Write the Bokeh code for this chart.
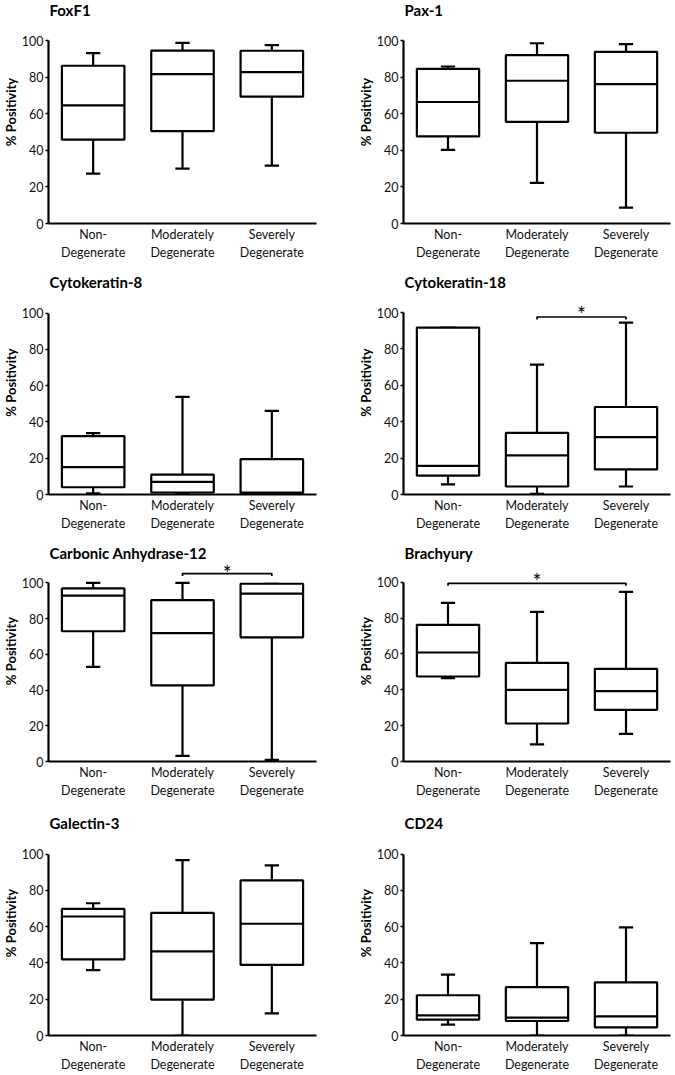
from bokeh.plotting import figure
from bokeh.models import Range1d, FixedTicker, Label, Title
from bokeh.layouts import column, row
from bokeh.embed import file_html
from bokeh.resources import INLINE
from bokeh.core.properties import value

# ---------------- data ----------------
groups = ["Non-\nDegenerate", "Moderately\nDegenerate", "Severely\nDegenerate"]
positions = [1, 2, 3]
y_ticks = [0, 20, 40, 60, 80, 100]
y_label = "% Positivity"

# each panel: whisker low, Q1, median, Q3, whisker high (per group)
foxf1_lo = [27.3, 30.0, 31.6]
foxf1_q1 = [45.8, 50.5, 69.3]
foxf1_med = [64.5, 81.6, 82.7]
foxf1_q3 = [86.2, 94.5, 94.4]
foxf1_hi = [93.1, 98.7, 97.5]

pax1_lo = [40.2, 22.2, 8.7]
pax1_q1 = [47.6, 55.5, 49.6]
pax1_med = [66.4, 78.0, 76.2]
pax1_q3 = [84.5, 92.0, 93.8]
pax1_hi = [85.8, 98.5, 98.0]

ck8_lo = [0.7, 0.3, 0.3]
ck8_q1 = [4.0, 1.1, 0.7]
ck8_med = [15.1, 7.0, 1.1]
ck8_q3 = [32.2, 11.0, 19.5]
ck8_hi = [33.8, 53.9, 46.1]

ck18_lo = [5.6, 0.3, 4.4]
ck18_q1 = [10.4, 4.4, 13.8]
ck18_med = [15.7, 21.5, 31.5]
ck18_q3 = [91.8, 33.9, 48.1]
ck18_hi = [91.8, 71.4, 94.5]

ca12_lo = [53.0, 3.1, 0.9]
ca12_q1 = [72.9, 42.6, 69.5]
ca12_med = [92.9, 71.8, 94.0]
ca12_q3 = [96.9, 90.3, 99.5]
ca12_hi = [100.0, 100.0, 99.5]

brach_lo = [46.5, 9.5, 15.4]
brach_q1 = [47.4, 21.2, 28.8]
brach_med = [60.8, 40.0, 39.2]
brach_q3 = [76.2, 55.0, 51.7]
brach_hi = [88.5, 83.5, 94.6]

gal3_lo = [36.0, 0.0, 12.2]
gal3_q1 = [42.0, 19.8, 38.9]
gal3_med = [65.6, 46.4, 61.6]
gal3_q3 = [69.8, 67.6, 85.5]
gal3_hi = [72.9, 96.7, 93.8]

cd24_lo = [6.0, 0.0, 0.0]
cd24_q1 = [8.7, 8.0, 4.5]
cd24_med = [11.1, 9.8, 10.5]
cd24_q3 = [22.2, 26.7, 29.3]
cd24_hi = [33.6, 50.9, 59.6]

# significance brackets: [group from, group to], bracket height, star centre
ck18_sig_pair = [2, 3]
ck18_sig_y = 97.6
ck18_star_y = 101.5
ca12_sig_pair = [2, 3]
ca12_sig_y = 105.2
ca12_star_y = 107.8
brach_sig_pair = [1, 3]
brach_sig_y = 99.4
brach_star_y = 103.3

panels = [
    ("FoxF1", foxf1_lo, foxf1_q1, foxf1_med, foxf1_q3, foxf1_hi, None),
    ("Pax-1", pax1_lo, pax1_q1, pax1_med, pax1_q3, pax1_hi, None),
    ("Cytokeratin-8", ck8_lo, ck8_q1, ck8_med, ck8_q3, ck8_hi, None),
    ("Cytokeratin-18", ck18_lo, ck18_q1, ck18_med, ck18_q3, ck18_hi,
     (ck18_sig_pair, ck18_sig_y, ck18_star_y)),
    ("Carbonic Anhydrase-12", ca12_lo, ca12_q1, ca12_med, ca12_q3, ca12_hi,
     (ca12_sig_pair, ca12_sig_y, ca12_star_y)),
    ("Brachyury", brach_lo, brach_q1, brach_med, brach_q3, brach_hi,
     (brach_sig_pair, brach_sig_y, brach_star_y)),
    ("Galectin-3", gal3_lo, gal3_q1, gal3_med, gal3_q3, gal3_hi, None),
    ("CD24", cd24_lo, cd24_q1, cd24_med, cd24_q3, cd24_hi, None),
]

# ---------------- layout / style ----------------
FONT = "Lato"
row_heights = [270, 270, 270, 265]
# pixel offsets (from each figure's top) of the 100 mark and of the 0 mark
panel_top100 = [40, 40, 42.7, 42.3, 43.3, 41.7, 44, 44]
panel_zero = [223, 223, 224, 225, 226, 221, 227, 227]
title_drop = [0, 0, 2, 2, 3, 3, 3, 3]
col_width = [355, 320]
col_border_left = [40, 40]
col_border_right = [39, 5]
X_START, X_END = 0.5, 3.5
BOX_HALF = 0.35
CAP_HALF = 0.08
LW = 2.2


def make_panel(title, lo, q1, med, q3, hi, sig, col, height, top100, zero, drop_t):
    ppu = (zero - top100) / 100.0
    y_end = zero / ppu
    p = figure(width=col_width[col], height=height, title=None,
               x_range=Range1d(X_START, X_END), y_range=Range1d(0, y_end),
               output_backend="svg", toolbar_location=None,
               min_border_left=col_border_left[col],
               min_border_right=col_border_right[col],
               min_border_top=0, min_border_bottom=int(height - zero))
    p.outline_line_color = None
    p.xgrid.grid_line_color = None
    p.ygrid.grid_line_color = None
    p.background_fill_color = "white"
    p.border_fill_color = "white"

    left = [x - BOX_HALF for x in positions]
    right = [x + BOX_HALF for x in positions]
    cl = [x - CAP_HALF for x in positions]
    cr = [x + CAP_HALF for x in positions]

    p.segment(x0=positions, y0=q3, x1=positions, y1=hi, line_color="black", line_width=LW)
    p.segment(x0=positions, y0=lo, x1=positions, y1=q1, line_color="black", line_width=LW)
    p.segment(x0=cl, y0=hi, x1=cr, y1=hi, line_color="black", line_width=LW)
    p.segment(x0=cl, y0=lo, x1=cr, y1=lo, line_color="black", line_width=LW)
    p.quad(left=left, right=right, bottom=q1, top=q3, fill_color="white",
           line_color="black", line_width=LW)
    p.segment(x0=left, y0=med, x1=right, y1=med, line_color="black", line_width=LW)

    if sig is not None:
        pair, yb, ys = sig
        xa, xb = positions[pair[0] - 1], positions[pair[1] - 1]
        drop = 2.5 / ppu
        p.line(x=[xa, xa, xb, xb], y=[yb - drop, yb, yb, yb - drop],
               line_color="black", line_width=1.7)
        p.text(x=[(xa + xb) / 2], y=[ys], text=["*"], text_align="center",
               text_baseline="middle", y_offset=4, text_font=value(FONT),
               text_font_size="21px", text_color="black")

    # panel title (top-left, inside the frame's headroom)
    p.add_layout(Label(x=X_START, y=y_end, x_offset=1, y_offset=-drop_t, text=title,
                       text_font=FONT, text_font_style="bold", text_font_size="15px",
                       text_baseline="top", text_align="left", text_color="black"))

    # y-axis title, placed left of the axis, centred a bit below the 0-100 midpoint
    label_centre = top100 + 0.47 * (zero - top100)
    p.add_layout(Title(text=y_label, align="center", offset=zero / 2 - label_centre,
                       standoff=0, text_font=FONT, text_font_style="bold",
                       text_font_size="13px", text_color="black"), "left")

    yax = p.yaxis[0]
    yax.ticker = FixedTicker(ticks=y_ticks)
    yax.bounds = (0, 100)
    yax.major_label_text_font = FONT
    yax.major_label_text_font_size = "12.5px"
    yax.major_label_text_color = "#111111"
    yax.major_label_standoff = 2
    yax.major_tick_out = 3
    yax.major_tick_in = 0
    yax.minor_tick_out = 0
    yax.minor_tick_in = 0
    yax.axis_line_width = LW
    yax.major_tick_line_width = 1.5

    xax = p.xaxis[0]
    xax.ticker = FixedTicker(ticks=positions)
    xax.major_label_overrides = {pos: g for pos, g in zip(positions, groups)}
    xax.major_label_text_font = FONT
    xax.major_label_text_font_size = "12.5px"
    xax.major_label_text_color = "#111111"
    xax.major_label_text_line_height = 1.25
    xax.major_label_standoff = 3
    xax.major_tick_out = 0
    xax.major_tick_in = 0
    xax.minor_tick_out = 0
    xax.minor_tick_in = 0
    xax.axis_line_width = LW
    return p


rows = []
for r in range(4):
    figs = []
    for c in range(2):
        i = r * 2 + c
        figs.append(make_panel(*panels[i], col=c, height=row_heights[r],
                               top100=panel_top100[i], zero=panel_zero[i],
                               drop_t=title_drop[i]))
    rows.append(row(*figs))
layout = column(*rows)

open("out.html", "w").write(file_html(layout, INLINE))
